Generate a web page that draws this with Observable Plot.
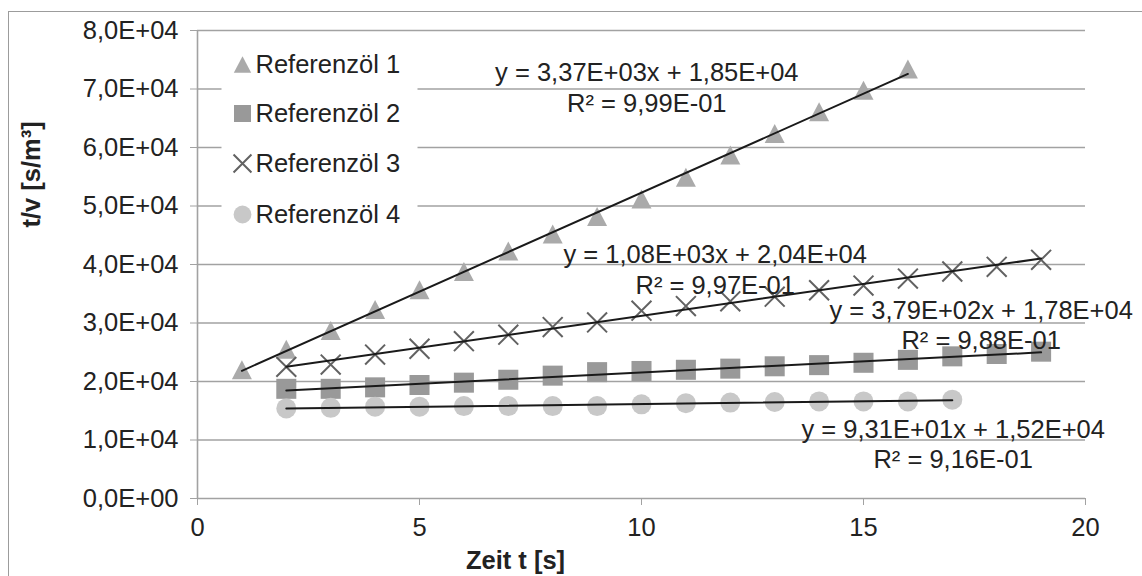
<!DOCTYPE html>
<html>
<head>
<meta charset="utf-8">
<script src="https://cdn.jsdelivr.net/npm/d3@7"></script>
<script src="https://cdn.jsdelivr.net/npm/@observablehq/plot@0.6"></script>
<style>
  html, body { margin: 0; padding: 0; background: white; overflow: hidden; }
  #wrap { position: relative; width: 1142px; height: 576px; overflow: hidden; }
  #border { position: absolute; left: 8px; top: 11px; width: 1160px; height: 600px;
            border: 1.5px solid #9c9c9c; pointer-events: none; }
</style>
</head>
<body>
<div id="wrap"><div id="chart"></div><div id="border"></div></div>
<script>
// ---- data ----
const seriesNames = ["Referenzöl 1", "Referenzöl 2", "Referenzöl 3", "Referenzöl 4"];
const x1 = [1,2,3,4,5,6,7,8,9,10,11,12,13,14,15,16];
const ref1 = [22000,25500,28700,32300,35700,38800,42300,45200,48200,51200,54900,58700,62400,66100,69800,73400];
const x2 = [2,3,4,5,6,7,8,9,10,11,12,13,14,15,16,17,18,19];
const ref2 = [18750,18750,19000,19400,19800,20300,21000,21600,21800,22000,22200,22600,22800,23200,23700,24300,24700,25100];
const x3 = [2,3,4,5,6,7,8,9,10,11,12,13,14,15,16,17,18,19];
const ref3 = [22500,22900,24600,25600,26900,28000,29300,30100,32100,32900,33700,34500,35600,36400,37600,38800,39600,40800];
const x4 = [2,3,4,5,6,7,8,9,10,11,12,13,14,15,16,17];
const ref4 = [15400,15500,15700,15700,15800,15800,15800,15800,16100,16300,16400,16500,16600,16600,16600,16900];
const xTicks = [0,5,10,15,20];
const yTicks = [0,10000,20000,30000,40000,50000,60000,70000,80000];
const eqText = ["y = 3,37E+03x + 1,85E+04","y = 3,79E+02x + 1,78E+04","y = 1,08E+03x + 2,04E+04","y = 9,31E+01x + 1,52E+04"];
const r2Text = ["R² = 9,99E-01","R² = 9,88E-01","R² = 9,97E-01","R² = 9,16E-01"];
const eqX = [10.12, 17.65, 11.66, 17.02];
const eqY = [70400, 29800, 39260, 9490];
const xTitle = "Zeit t [s]";
const yTitle = "t/v [s/m³]";

// ---- helpers ----
const fmtE = v => {
  const [m, e] = v.toExponential(1).split("e");
  const sign = e[0] === "-" ? "-" : "+";
  return m.replace(".", ",") + "E" + sign + e.replace(/[+-]/, "").padStart(2, "0");
};
const triUp = { draw(ctx, size) { const s = Math.sqrt(size), h = s * 0.95;
  ctx.moveTo(0, -h/2); ctx.lineTo(s/2, h/2); ctx.lineTo(-s/2, h/2); ctx.closePath(); } };

const toRows = (xs, ys) => xs.map((x, i) => ({x, y: ys[i]}));
const d1 = toRows(x1, ref1), d2 = toRows(x2, ref2), d3r = toRows(x3, ref3), d4 = toRows(x4, ref4);
const labels = eqText.map((t, i) => ({x: eqX[i], y: eqY[i], text: t + "\n" + r2Text[i]}));

const GRID = "#a2a2a2", TXT = "#222";
const styles = [
  {symbol: triUp, r: 11.3, fill: "#aaaaaa", stroke: "none"},
  {symbol: "square", r: 11.3, fill: "#999999", stroke: "none"},
  {symbol: "times", r: 9.1, fill: "none", stroke: "#626262", strokeWidth: 2},
  {symbol: "circle", r: 10, fill: "#c8c8c8", stroke: "none"}
];
const legendStyles = [
  {symbol: triUp, r: 9.8},
  {symbol: "square", r: 9.6},
  {symbol: "times", r: 8.2},
  {symbol: "circle", r: 8.9}
];
const legendDy = [34, 83, 133, 184];

const legendMarks = [];
seriesNames.forEach((name, i) => {
  legendMarks.push(Plot.dot([name], {frameAnchor: "top-left", dx: 45, dy: legendDy[i], ...styles[i], ...legendStyles[i]}));
  legendMarks.push(Plot.text([name], {text: d => d, frameAnchor: "top-left", dx: 58, dy: legendDy[i],
    textAnchor: "start", lineAnchor: "middle", fill: TXT}));
});

const chart = Plot.plot({
  width: 1142, height: 576,
  marginLeft: 197, marginRight: 57, marginTop: 30, marginBottom: 78,
  x: {domain: [0, 20]},
  y: {domain: [0, 80000]},
  style: {fontFamily: "'Liberation Sans', Arial, sans-serif", fontSize: "25.5px", color: TXT, background: "white"},
  marks: [
    Plot.ruleY(yTicks, {stroke: GRID, strokeWidth: 1.6}),
    Plot.frame({fill: "white", stroke: "none", insetLeft: 24, insetTop: 10, insetRight: 668, insetBottom: 258}),
    Plot.ruleX([0], {stroke: GRID, strokeWidth: 1.6}),
    Plot.axisY({ticks: yTicks, tickFormat: fmtE, tickSize: 7, tickPadding: 12, stroke: GRID, fill: TXT, label: null}),
    Plot.axisX({ticks: xTicks, tickFormat: d => String(d), tickSize: 7, tickPadding: 12, stroke: GRID, fill: TXT, label: null}),
    Plot.dot(d1, {x: "x", y: "y", ...styles[0]}),
    Plot.dot(d2, {x: "x", y: "y", ...styles[1]}),
    Plot.dot(d3r, {x: "x", y: "y", ...styles[2]}),
    Plot.dot(d4, {x: "x", y: "y", ...styles[3]}),
    ...[d1, d2, d3r, d4].map(d => Plot.linearRegressionY(d, {x: "x", y: "y", ci: 0, stroke: "#1a1a1a", strokeWidth: 2})),
    Plot.text(labels, {x: "x", y: "y", text: "text", textAnchor: "middle", lineAnchor: "middle", lineHeight: 1.19, fill: TXT}),
    Plot.text([xTitle], {text: d => d, frameAnchor: "bottom", dx: -126, dy: 62, lineAnchor: "middle", fontWeight: "bold", fill: TXT}),
    Plot.text([yTitle], {text: d => d, frameAnchor: "left", rotate: -90, dx: -166, dy: -37, lineAnchor: "middle", fontWeight: "bold", fill: TXT}),
    ...legendMarks
  ]
});
document.getElementById("chart").appendChild(chart);
</script>
</body>
</html>
